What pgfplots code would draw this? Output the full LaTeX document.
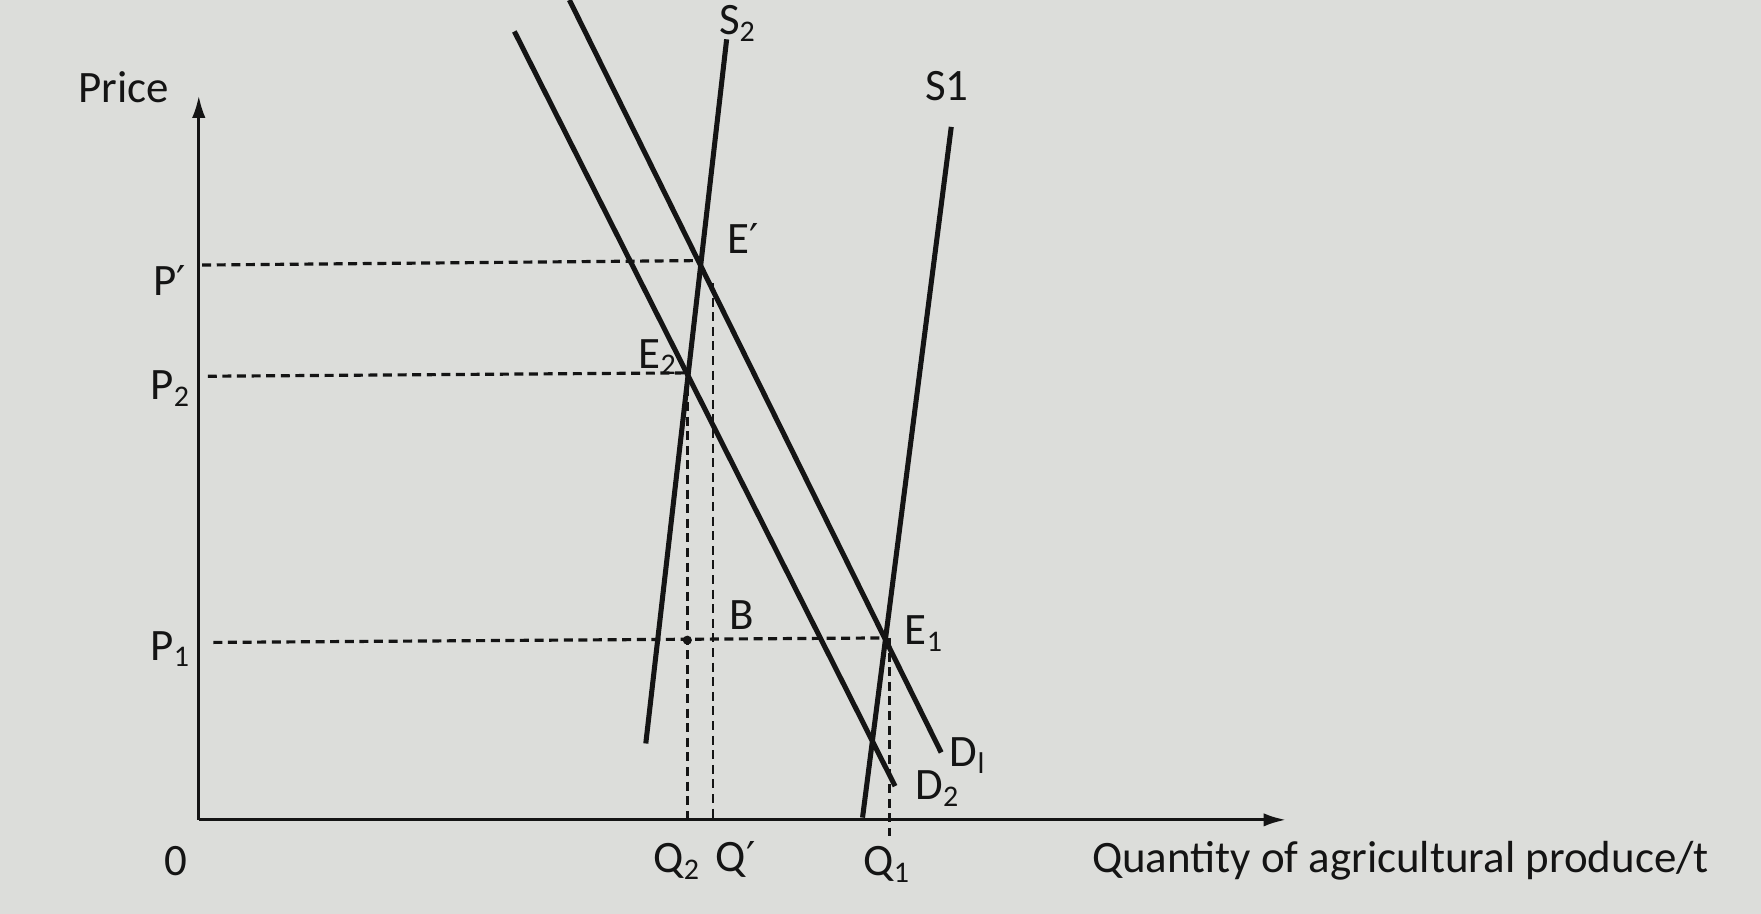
\documentclass[border=0pt]{standalone}
\usepackage{pgfplots}
\pgfplotsset{compat=1.18}
\usepackage{fontspec}
\setmainfont{Carlito}
\newfontfamily\dv{DejaVu Sans}
\newcommand{\pr}{{\dv\fontsize{11}{12}\selectfont ′}}
\usetikzlibrary{arrows.meta}
\definecolor{bg}{RGB}{220,221,218}
\definecolor{ink}{RGB}{20,20,20}
\begin{document}
\begin{tikzpicture}[font=\fontsize{12}{14}\selectfont]
\fill[bg] (-55pt,-27pt) rectangle (420pt,221pt);
\pgfresetboundingbox
\path[use as bounding box] (-53.1pt,-24.9pt) rectangle (417.3pt,219pt);
\begin{axis}[
  x=0.3pt, y=0.3pt,
  xmin=0, xmax=968, ymin=0, ymax=645,
  axis lines=left,
  axis line style={ink, line width=0.8pt, -{Latex[length=6pt,width=3.6pt]}},
  xtick=\empty, ytick=\empty,
  clip=false,
]
% dashed guide lines
\addplot[ink, line width=0.85pt, dash pattern=on 2.4pt off 1.5pt] coordinates {(3,494) (448,498)};
\addplot[ink, line width=0.85pt, dash pattern=on 2.4pt off 1.5pt] coordinates {(8,395) (435,398)};
\addplot[ink, line width=0.85pt, dash pattern=on 2.4pt off 1.5pt] coordinates {(13,158) (613,162)};
\addplot[ink, line width=0.65pt, dash pattern=on 2.4pt off 1.5pt] coordinates {(435,398) (435,2)};
\addplot[ink, line width=0.65pt, dash pattern=on 2.4pt off 1.5pt] coordinates {(458,478) (458,2)};
\addplot[ink, line width=0.65pt, dash pattern=on 2.4pt off 1.5pt] coordinates {(615,162) (615,-14)};
% supply and demand
\addplot[ink, line width=1.35pt] coordinates {(398,68) (470,695)};   % S2
\addplot[ink, line width=1.35pt] coordinates {(591,2) (670,617)};    % S1
\addplot[ink, line width=1.35pt] coordinates {(330,730) (661,60)};   % D1
\addplot[ink, line width=1.35pt] coordinates {(281,702) (620,30)};   % D2
\addplot[ink, only marks, mark=*, mark size=1pt] coordinates {(435,160)};
% labels
\node[ink] at (axis cs:-67,652) {Price};
\node[ink] at (axis cs:-20,-37) {0};
\node[ink] at (axis cs:-26,480) {P\pr};
\node[ink] at (axis cs:-25,384) {P\textsubscript{2}};
\node[ink] at (axis cs:-25,152) {P\textsubscript{1}};
\node[ink] at (axis cs:426,-37) {Q\textsubscript{2}};
\node[ink] at (axis cs:478,-35) {Q\pr};
\node[ink] at (axis cs:613,-40) {Q\textsubscript{1}};
\node[ink] at (axis cs:485,518) {E\pr};
\node[ink] at (axis cs:409,412) {E\textsubscript{2}};
\node[ink] at (axis cs:646,166) {E\textsubscript{1}};
\node[ink] at (axis cs:483,182) {B};
\node[ink] at (axis cs:666,653) {S1};
\node[ink, anchor=north, inner sep=1pt] at (axis cs:480,729) {S\textsubscript{2}};
\node[ink] at (axis cs:685,57) {D\textsubscript{l}};
\node[ink] at (axis cs:658,28) {D\textsubscript{2}};
\node[ink] at (axis cs:1070,-36) {Quantity of agricultural produce/t};
\end{axis}
\end{tikzpicture}
\end{document}
